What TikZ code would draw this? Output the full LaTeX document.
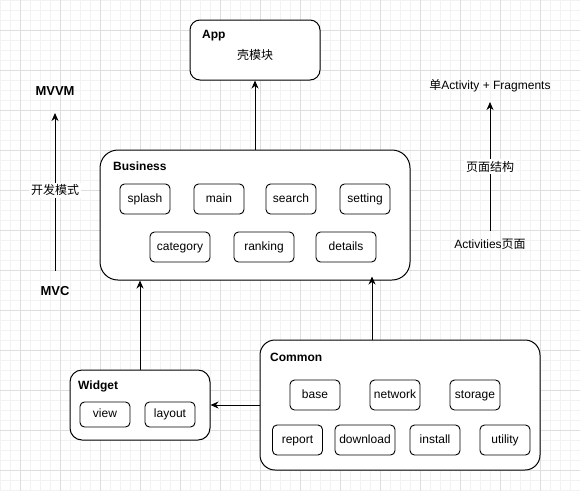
\documentclass[tikz,border=0pt]{standalone}
\usepackage{fontspec}
\setmainfont{Liberation Sans}
\newfontfamily\cjk{Noto Sans CJK SC}
\usetikzlibrary{arrows.meta}
\begin{document}
\begin{tikzpicture}[x=1pt,y=-1pt,
  font=\fontsize{12}{14}\selectfont,
  minorgrid/.style={line width=0.8pt, draw=black!5},
  majorgrid/.style={line width=0.8pt, draw=black!13},
  container/.style={draw, line width=1pt, rounded corners=#1, inner sep=0pt, fill=none},
  item/.style={draw, line width=0.9pt, rounded corners=4.5pt, minimum width=50pt, minimum height=30pt, inner sep=0pt, text height=8.7pt, text depth=2.5pt},
  wideitem/.style={item, minimum width=60pt},
  smallitem/.style={item, minimum height=25pt},
  boxtitle/.style={anchor=west, font=\bfseries\fontsize{12}{14}\selectfont, inner sep=0pt, text height=8.7pt, text depth=2.5pt},
  bigtitle/.style={font=\bfseries\fontsize{13}{15}\selectfont, inner sep=0pt},
  plain/.style={inner sep=0pt, text height=8.7pt, text depth=2.5pt},
  edgelabel/.style={fill=white, inner sep=2pt},
  arr/.style={-{Stealth[length=8pt,width=7pt,inset=2.5pt]}, line width=1pt}]
\useasboundingbox (0,0) rectangle (580,491);
\fill[white] (0,0) rectangle (580,491);
% grid
\foreach \x in {0,10,...,580} \draw[minorgrid] (\x,0) -- (\x,491);
\foreach \y in {0,10,...,490} \draw[minorgrid] (0,\y) -- (580,\y);
\foreach \x in {20,60,...,580} \draw[majorgrid] (\x,0) -- (\x,491);
\foreach \y in {30,70,...,490} \draw[majorgrid] (0,\y) -- (580,\y);

% App
\node[container=10pt, minimum width=130pt, minimum height=60pt, fill=white] (app) at (255,50) {};
\node[boxtitle] (apptitle) at (202,35) {App};
\node[plain] (appsub) at (255,56) {\cjk 壳模块};

% Business
\node[container=18pt, minimum width=310pt, minimum height=130pt, fill=white] (business) at (255,215) {};
\node[boxtitle] (bustitle) at (113,167) {Business};
\node[item] (splash) at (145,199) {splash};
\node[item] (main) at (219,199) {main};
\node[item] (search) at (291,199) {search};
\node[item] (setting) at (365,199) {setting};
\node[wideitem] (category) at (180,247) {category};
\node[wideitem] (ranking) at (264,247) {ranking};
\node[wideitem] (details) at (346,247) {details};

% Widget
\node[container=12pt, minimum width=140pt, minimum height=70pt, fill=white] (widget) at (140,405) {};
\node[boxtitle] (widtitle) at (78,386) {Widget};
\node[smallitem] (view) at (105,414.5) {view};
\node[smallitem] (layout) at (170,414.5) {layout};

% Common
\node[container=15pt, minimum width=280pt, minimum height=130pt, fill=white] (common) at (400,405) {};
\node[boxtitle] (comtitle) at (270,358) {Common};
\node[item] (base) at (315,395) {base};
\node[item] (network) at (395,395) {network};
\node[item] (storage) at (475,395) {storage};
\node[item] (report) at (297.5,440) {report};
\node[wideitem] (download) at (365,440) {download};
\node[item] (install) at (435,440) {install};
\node[item] (utility) at (505,440) {utility};

% connectors
\draw[arr] (business.north) -- (app.south);
\draw[arr] (widget.north) -- (widget.north |- business.south);
\coordinate (comtop) at ([xshift=-28pt]common.north);
\draw[arr] (comtop) -- ([yshift=4pt]comtop |- business.south);
\draw[arr] (common.west) -- (widget.east);

% left: MVC -> MVVM
\node[bigtitle] (mvvm) at (55,91) {MVVM};
\node[bigtitle] (mvc) at (55,291) {MVC};
\coordinate (mvcup) at (55,271);
\coordinate (mvvmdown) at (55,113);
\draw[arr] (mvcup) -- node[edgelabel, pos=0.51] (devmode) {\cjk 开发模式} (mvvmdown);

% right: Activities -> single Activity
\node[plain] (single) at (490,86) {{\cjk 单}Activity + Fragments};
\node[plain] (acts) at (490,245.5) {Activities{\cjk 页面}};
\coordinate (actsup) at (490,231);
\coordinate (singledown) at (490,102);
\draw[arr] (actsup) -- node[edgelabel, midway] (pagestruct) {\cjk 页面结构} (singledown);
\end{tikzpicture}
\end{document}
